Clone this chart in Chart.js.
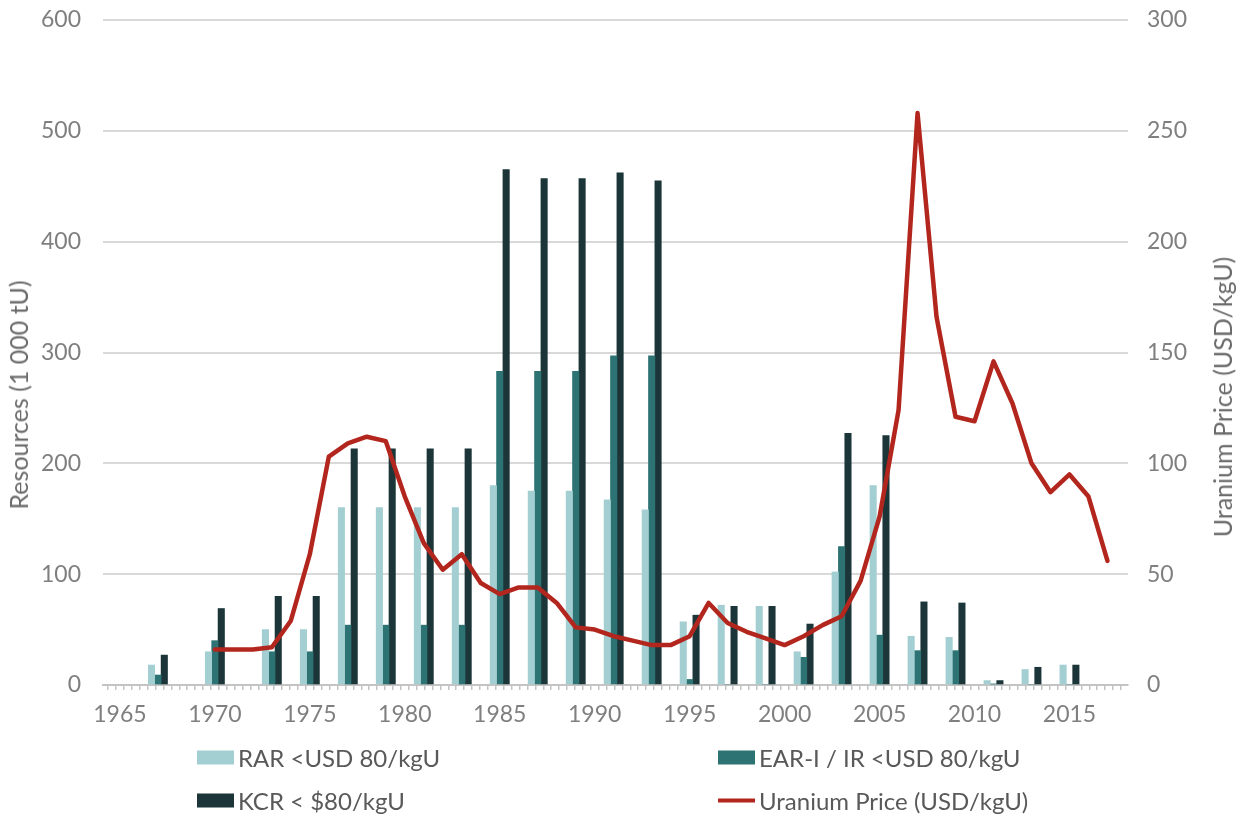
<!DOCTYPE html>
<html>
<head>
<meta charset="utf-8">
<script src="https://cdn.jsdelivr.net/npm/chart.js@4.4.1/dist/chart.umd.min.js"></script>
<style>
  html, body { margin: 0; padding: 0; background: #fff; }
  #wrap { position: relative; width: 1244px; height: 818px; font-family: Lato, sans-serif; }
  #wrap canvas { position: absolute; left: 0; top: 0; }
  .ytitle { position: absolute; color: #6b6b6b; font-size: 25px; white-space: nowrap;
            transform: translate(-50%, -50%) rotate(-90deg); }
  .legend-item { position: absolute; display: flex; align-items: center; font-size: 24px;
                 color: #595959; white-space: nowrap; transform: translateY(-50%); }
  .swatch { width: 37px; height: 14px; margin-right: 4px; }
  .swatch.line { height: 4px; }
</style>
</head>
<body>
<div id="wrap">
  <canvas id="grafico" width="1244" height="818"></canvas>
  <div class="ytitle" style="left:18px; top:395px">Resources (1 000 tU)</div>
  <div class="ytitle" style="left:1222px; top:397px">Uranium Price (USD/kgU)</div>
  <div id="legend"></div>
</div>
<script>
// bars: one group every reporting year
const barYears = [1967, 1970, 1973, 1975, 1977, 1979, 1981, 1983, 1985, 1987, 1989, 1991,
                  1993, 1995, 1997, 1999, 2001, 2003, 2005, 2007, 2009, 2011, 2013, 2015];
const rarValues = [18, 30, 50, 50, 160, 160, 160, 160, 180, 175, 175, 167,
                   158, 57, 72, 71, 30, 102, 180, 44, 43, 4, 14, 18];
const earValues = [9, 40, 30, 30, 54, 54, 54, 54, 283, 283, 283, 297,
                   297, 5, 0, 0, 25, 125, 45, 31, 31, 1, 0, 0];
const kcrValues = [27, 69, 80, 80, 213, 213, 213, 213, 465, 457, 457, 462,
                   455, 63, 71, 71, 55, 227, 225, 75, 74, 4, 16, 18];

// price line, yearly
const priceYears = [1970, 1971, 1972, 1973, 1974, 1975, 1976, 1977, 1978, 1979,
                    1980, 1981, 1982, 1983, 1984, 1985, 1986, 1987, 1988, 1989,
                    1990, 1991, 1992, 1993, 1994, 1995, 1996, 1997, 1998, 1999,
                    2000, 2001, 2002, 2003, 2004, 2005, 2006, 2007, 2008, 2009,
                    2010, 2011, 2012, 2013, 2014, 2015, 2016, 2017];
const priceValues = [16, 16, 16, 17, 29, 59, 103, 109, 112, 110,
                     85, 64, 52, 59, 46, 41, 44, 44, 37, 26,
                     25, 22, 20, 18, 18, 22, 37, 28, 24, 21,
                     18, 22, 27, 31, 47, 76, 124, 258, 166, 121,
                     119, 146, 127, 100, 87, 95, 85, 56];

const xTickLabels = [1965, 1970, 1975, 1980, 1985, 1990, 1995, 2000, 2005, 2010, 2015];

const seriesNames = ['RAR <USD 80/kgU', 'EAR-I / IR <USD 80/kgU', 'KCR < $80/kgU', 'Uranium Price (USD/kgU)'];
const seriesColors = ['#a3cfd2', '#2e7373', '#1b3538', '#b3261e'];

const toPoints = (xs, ys) => xs.map((x, i) => ({ x: x, y: ys[i] }));

const tickFont = { family: 'Lato', size: 23 };

// y axes: fixed width, no extra room for the top label overflow
const fitY = (w) => (s) => { s.width = w; s.paddingTop = 0; s.paddingBottom = 0; };

function renderGrafico() {
  const ctx = document.getElementById('grafico').getContext('2d');

  new Chart(ctx, {
    type: 'bar',
    data: {
      datasets: [
        {
          type: 'line',
          label: seriesNames[3],
          data: toPoints(priceYears, priceValues),
          yAxisID: 'y2',
          borderColor: seriesColors[3],
          borderWidth: 4.5,
          pointRadius: 0,
          tension: 0,
          borderJoinStyle: 'round',
          borderCapStyle: 'round',
          fill: false,
          order: 0
        },
        { label: seriesNames[0], data: toPoints(barYears, rarValues), backgroundColor: seriesColors[0], yAxisID: 'y', order: 1 },
        { label: seriesNames[1], data: toPoints(barYears, earValues), backgroundColor: seriesColors[1], yAxisID: 'y', order: 1 },
        { label: seriesNames[2], data: toPoints(barYears, kcrValues), backgroundColor: seriesColors[2], yAxisID: 'y', order: 1 }
      ]
    },
    options: {
      responsive: false,
      animation: false,
      datasets: { bar: { barThickness: 6.4 } },
      layout: { padding: { top: 20, bottom: 83, left: 0, right: 0 } },
      plugins: { legend: { display: false }, tooltip: { enabled: false } },
      scales: {
        x: {
          type: 'linear',
          position: 'bottom',
          min: 1964.32,
          max: 2017.87,
          afterBuildTicks: (s) => {
            const t = [];
            for (let i = -1; 1965 + i * 5 / 12 <= s.max; i++) t.push({ value: 1965 + i * 5 / 12 });
            s.ticks = t;
          },
          ticks: {
            autoSkip: false, maxRotation: 0, minRotation: 0, padding: 11,
            color: '#7f7f7f', font: tickFont,
            callback: (v) => {
              const r = Math.round(v);
              return (Math.abs(v - r) < 1e-6 && xTickLabels.includes(r)) ? String(r) : '';
            }
          },
          grid: { drawOnChartArea: false, drawTicks: true, tickLength: 5, color: '#c4c4c4', lineWidth: 1.5 },
          border: { display: true, color: '#c4c4c4', width: 2 },
          afterFit: (s) => { s.height = 50; s.paddingLeft = 0; s.paddingRight = 0; }
        },
        y: {
          position: 'left',
          min: 0, max: 600,
          ticks: { stepSize: 100, padding: 22, color: '#7f7f7f', font: tickFont },
          grid: { color: '#d9d9d9', lineWidth: 2, drawTicks: false },
          border: { display: false },
          afterFit: fitY(103)
        },
        y2: {
          position: 'right',
          min: 0, max: 300,
          ticks: { stepSize: 50, padding: 19, color: '#7f7f7f', font: tickFont },
          grid: { drawOnChartArea: false, drawTicks: false },
          border: { display: false },
          afterFit: fitY(116)
        }
      }
    }
  });
}

function renderLegend() {
  const pos = [[197, 757], [718, 757], [197, 800], [718, 800]];
  const box = document.getElementById('legend');
  seriesNames.forEach((name, i) => {
    const item = document.createElement('div');
    item.className = 'legend-item';
    item.style.left = pos[i][0] + 'px';
    item.style.top = pos[i][1] + 'px';
    const sw = document.createElement('span');
    sw.className = i === 3 ? 'swatch line' : 'swatch';
    sw.style.background = seriesColors[i];
    const txt = document.createElement('span');
    txt.textContent = name;
    item.appendChild(sw);
    item.appendChild(txt);
    box.appendChild(item);
  });
}

renderGrafico();
renderLegend();
</script>
</body>
</html>
